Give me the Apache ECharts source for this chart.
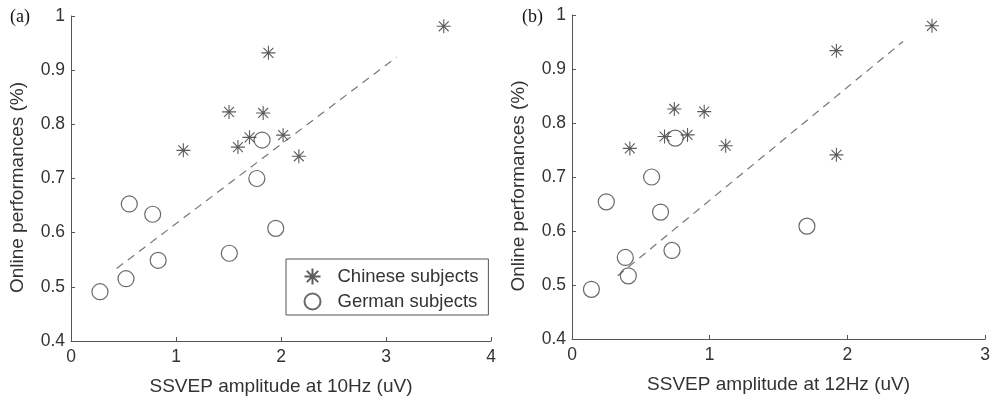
<!DOCTYPE html>
<html>
<head>
<meta charset="utf-8">
<script src="https://cdn.jsdelivr.net/npm/echarts@6/dist/echarts.min.js"></script>
<style>
html,body{margin:0;padding:0;background:#fff;}
#chart{width:993px;height:403px;}
</style>
</head>
<body>
<div id="chart"></div>
<script>
// ---- data (x = SSVEP amplitude uV, y = online performance) ----
var chineseA = [[1.88,0.932],[1.505,0.823],[1.83,0.821],[1.07,0.752],[1.59,0.758],[1.70,0.776],[2.02,0.780],[2.17,0.741],[3.55,0.981]];
var germanA  = [[1.82,0.771],[1.77,0.700],[0.555,0.653],[0.778,0.634],[0.83,0.549],[0.524,0.515],[0.276,0.491],[1.508,0.562],[1.95,0.608]];
var fitA     = [[0.435,0.534],[3.10,0.924]];

var chineseB = [[0.42,0.753],[0.743,0.826],[0.672,0.775],[0.839,0.778],[0.96,0.821],[1.116,0.758],[1.92,0.934],[1.92,0.741],[2.614,0.980]];
var germanB  = [[0.75,0.772],[0.578,0.700],[0.249,0.654],[0.643,0.635],[0.387,0.551],[0.409,0.517],[0.141,0.492],[0.726,0.564],[1.706,0.609]];
var fitB     = [[0.332,0.517],[2.404,0.951]];

var seriesNames = ['Chinese subjects','German subjects'];
var xTitles = ['SSVEP amplitude at 10Hz (uV)','SSVEP amplitude at 12Hz (uV)'];
var yTitle = 'Online performances (%)';
var panelLabels = ['(a)','(b)'];
var xMax = [4, 3];

var FONT = 'Liberation Sans, Arial, sans-serif';
var TXT = '#333';
var AX = '#555';
var STAR = 'path://M0,-10L0,10M-10,0L10,0M-7.07,-7.07L7.07,7.07M-7.07,7.07L7.07,-7.07';

function xAxis(i){
  return {
    type:'value', gridIndex:i, min:0, max:xMax[i], interval:1,
    name:xTitles[i], nameLocation:'middle', nameGap:36,
    nameTextStyle:{fontFamily:FONT,fontSize:19,color:TXT},
    axisLine:{lineStyle:{color:AX,width:1}},
    axisTick:{inside:true,length:4,lineStyle:{color:AX}},
    axisLabel:{fontFamily:FONT,fontSize:17.5,color:TXT,margin:7,showMaxLabel:true,showMinLabel:true},
    splitLine:{show:false}
  };
}
function yAxis(i){
  return {
    type:'value', gridIndex:i, min:0.4, max:1, interval:0.1,
    name:yTitle, nameLocation:'middle', nameGap:44, nameRotate:90,
    nameTextStyle:{fontFamily:FONT,fontSize:19,color:TXT,padding:[0,0,0,-18]},
    axisLine:{show:true,lineStyle:{color:AX,width:1}},
    axisTick:{show:true,inside:true,length:4,lineStyle:{color:AX}},
    axisLabel:{fontFamily:FONT,fontSize:17.5,color:TXT,margin:6,
      formatter:function(v){return +v.toFixed(1)+'';}},
    splitLine:{show:false}
  };
}
function starSeries(name,data,i){
  return {type:'scatter',name:name,xAxisIndex:i,yAxisIndex:i,data:data,
    symbol:STAR,symbolSize:14,
    itemStyle:{color:'none',borderColor:'#333',borderWidth:1.1},z:3};
}
function circSeries(name,data,i){
  return {type:'scatter',name:name,xAxisIndex:i,yAxisIndex:i,data:data,
    symbol:'circle',symbolSize:16,
    itemStyle:{color:'none',borderColor:'#444',borderWidth:1.2},z:3};
}
function fitSeries(data,i){
  return {type:'line',xAxisIndex:i,yAxisIndex:i,data:data,symbol:'none',
    lineStyle:{color:'#777',width:1.2,type:[8,6]},z:2,silent:true};
}

var chart = echarts.init(document.getElementById('chart'),null,{renderer:'canvas'});
chart.setOption({
  animation:false,
  backgroundColor:'#fff',
  grid:[
    {left:71,top:16,width:420,height:325},
    {left:572,top:15,width:418,height:324}
  ],
  xAxis:[xAxis(0),xAxis(1)],
  yAxis:[yAxis(0),yAxis(1)],
  legend:{
    data:seriesNames, orient:'vertical', left:286, top:259,
    padding:[7,10,3,16], itemGap:4, itemWidth:40, itemHeight:16,
    borderColor:'#555', borderWidth:1, backgroundColor:'#fff',
    textStyle:{fontFamily:FONT,fontSize:18.5,color:TXT},
    selectedMode:false
  },
  graphic:[
    {type:'text',left:10,top:8,style:{text:panelLabels[0],font:'18px "Liberation Serif", "Times New Roman", serif',fill:'#111'}},
    {type:'text',left:522,top:8,style:{text:panelLabels[1],font:'18px "Liberation Serif", "Times New Roman", serif',fill:'#111'}}
  ],
  series:[
    fitSeries(fitA,0),
    starSeries(seriesNames[0],chineseA,0),
    circSeries(seriesNames[1],germanA,0),
    fitSeries(fitB,1),
    starSeries(seriesNames[0],chineseB,1),
    circSeries(seriesNames[1],germanB,1)
  ]
});
</script>
</body>
</html>
